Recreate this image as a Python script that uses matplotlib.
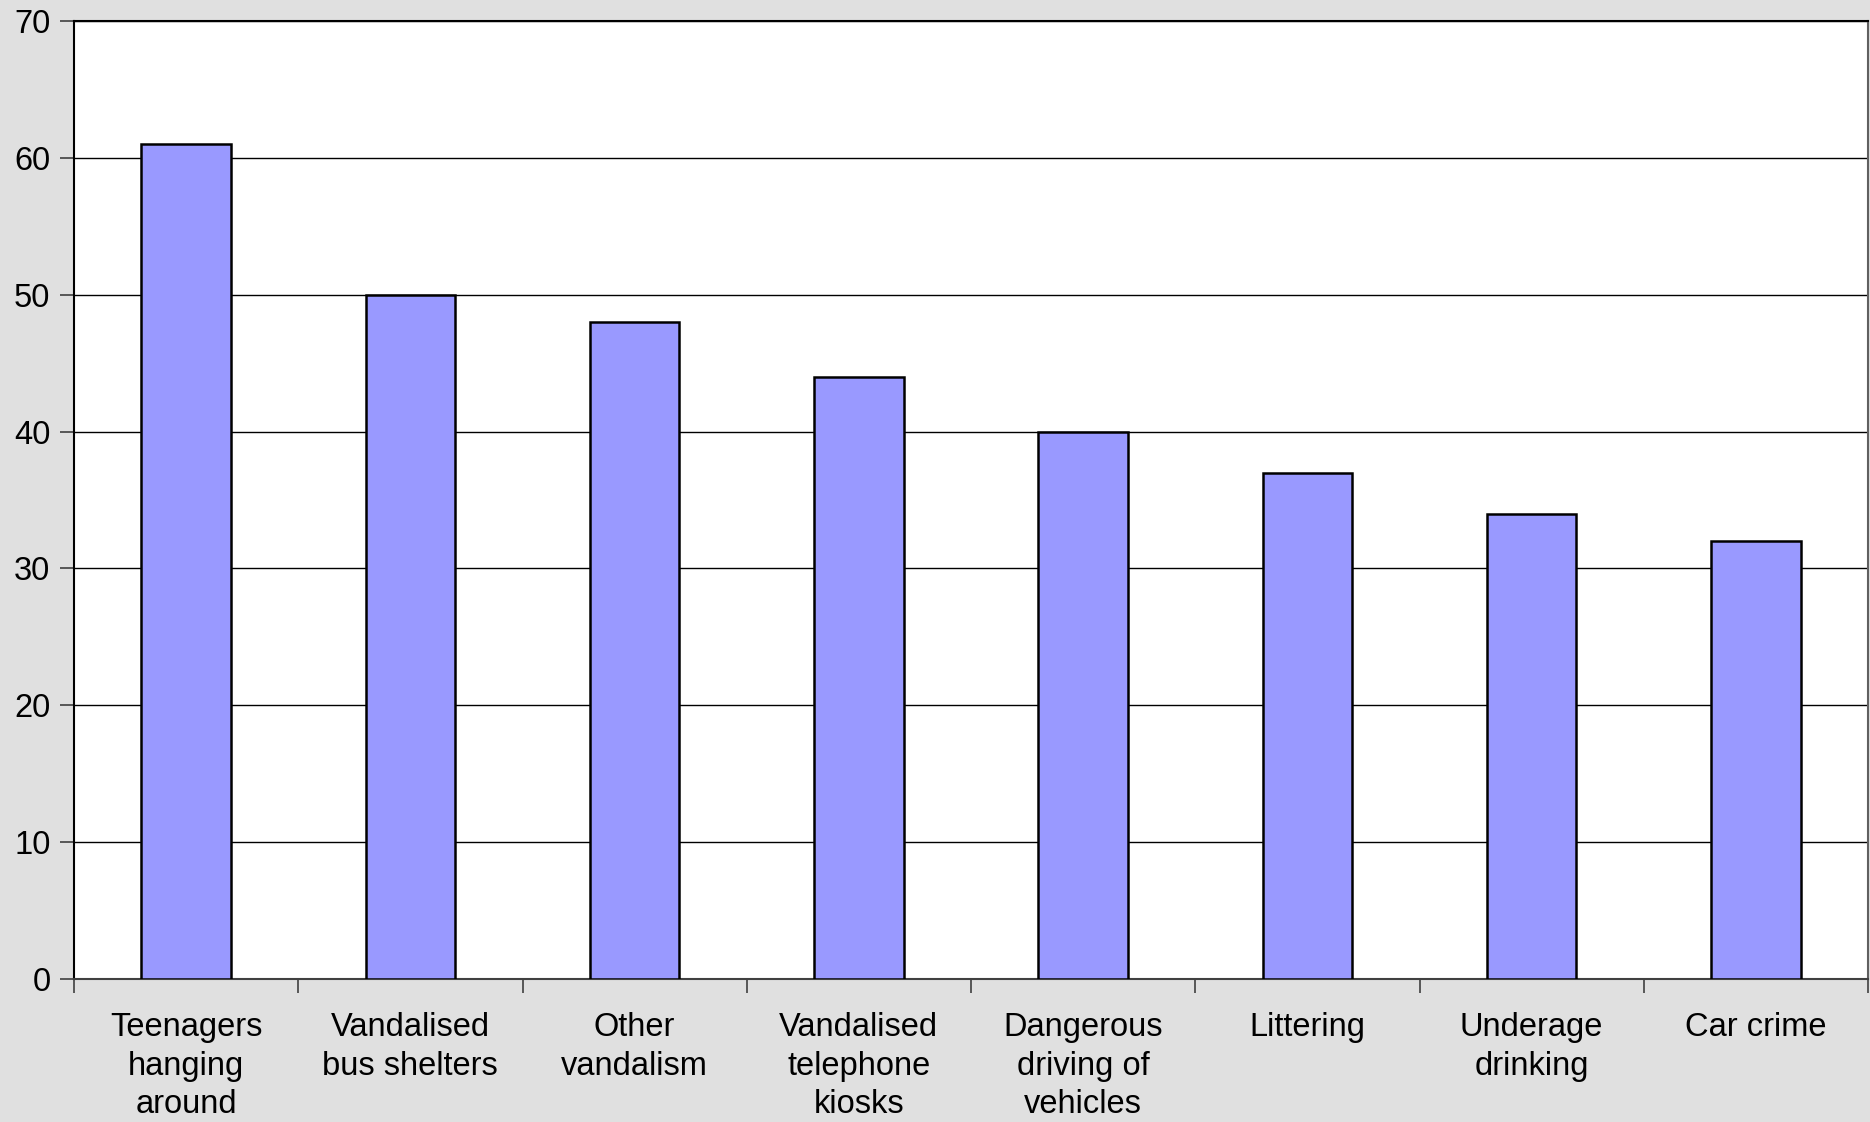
import matplotlib
matplotlib.use("Agg")
from matplotlib import pyplot as plt
import numpy as np

categories = ["Teenagers\nhanging\naround", "Vandalised\nbus shelters", "Other\nvandalism",
              "Vandalised\ntelephone\nkiosks", "Dangerous\ndriving of\nvehicles", "Littering",
              "Underage\ndrinking", "Car crime"]
values = [61, 50, 48, 44, 40, 37, 34, 32]
yticks = [0, 10, 20, 30, 40, 50, 60, 70]

plt.rcParams['font.family'] = ['Liberation Sans', 'DejaVu Sans']

fig = plt.figure(figsize=(18.7, 11.22), dpi=100, facecolor='#e0e0e0')
ax = fig.add_axes([74 / 1870, 1 - 979 / 1122, (1868 - 74) / 1870, (979 - 21) / 1122])
ax.set_facecolor('white')

x = np.arange(len(values))
ax.bar(x, values, width=0.4, color='#9999ff', edgecolor='black', linewidth=1.8, zorder=3)

ax.set_xlim(-0.5, len(values) - 0.5)
ax.set_ylim(0, 70)
ax.set_yticks(yticks)
ax.set_yticklabels([str(v) for v in yticks], fontsize=23.5)
ax.yaxis.grid(True, color='black', linewidth=1.0, zorder=0)

ax.set_xticks(np.arange(len(values) + 1) - 0.5, minor=True)
ax.set_xticks(x)
ax.set_xticklabels(categories, fontsize=23.5, linespacing=1.31, va='top')
ax.tick_params(axis='x', which='major', length=0, pad=24)
ax.tick_params(axis='x', which='minor', length=10, width=1.2, color='#404040')
ax.tick_params(axis='y', length=10, width=1.2, pad=7, color='#404040')

for side in ['left', 'top']:
    ax.spines[side].set_color('black')
    ax.spines[side].set_linewidth(1.5)
ax.spines['right'].set_color('#606060')
ax.spines['right'].set_linewidth(1.5)
ax.spines['bottom'].set_color('#404040')
ax.spines['bottom'].set_linewidth(1.5)

plt.savefig('out.png', dpi=100, facecolor=fig.get_facecolor())
plt.close()
